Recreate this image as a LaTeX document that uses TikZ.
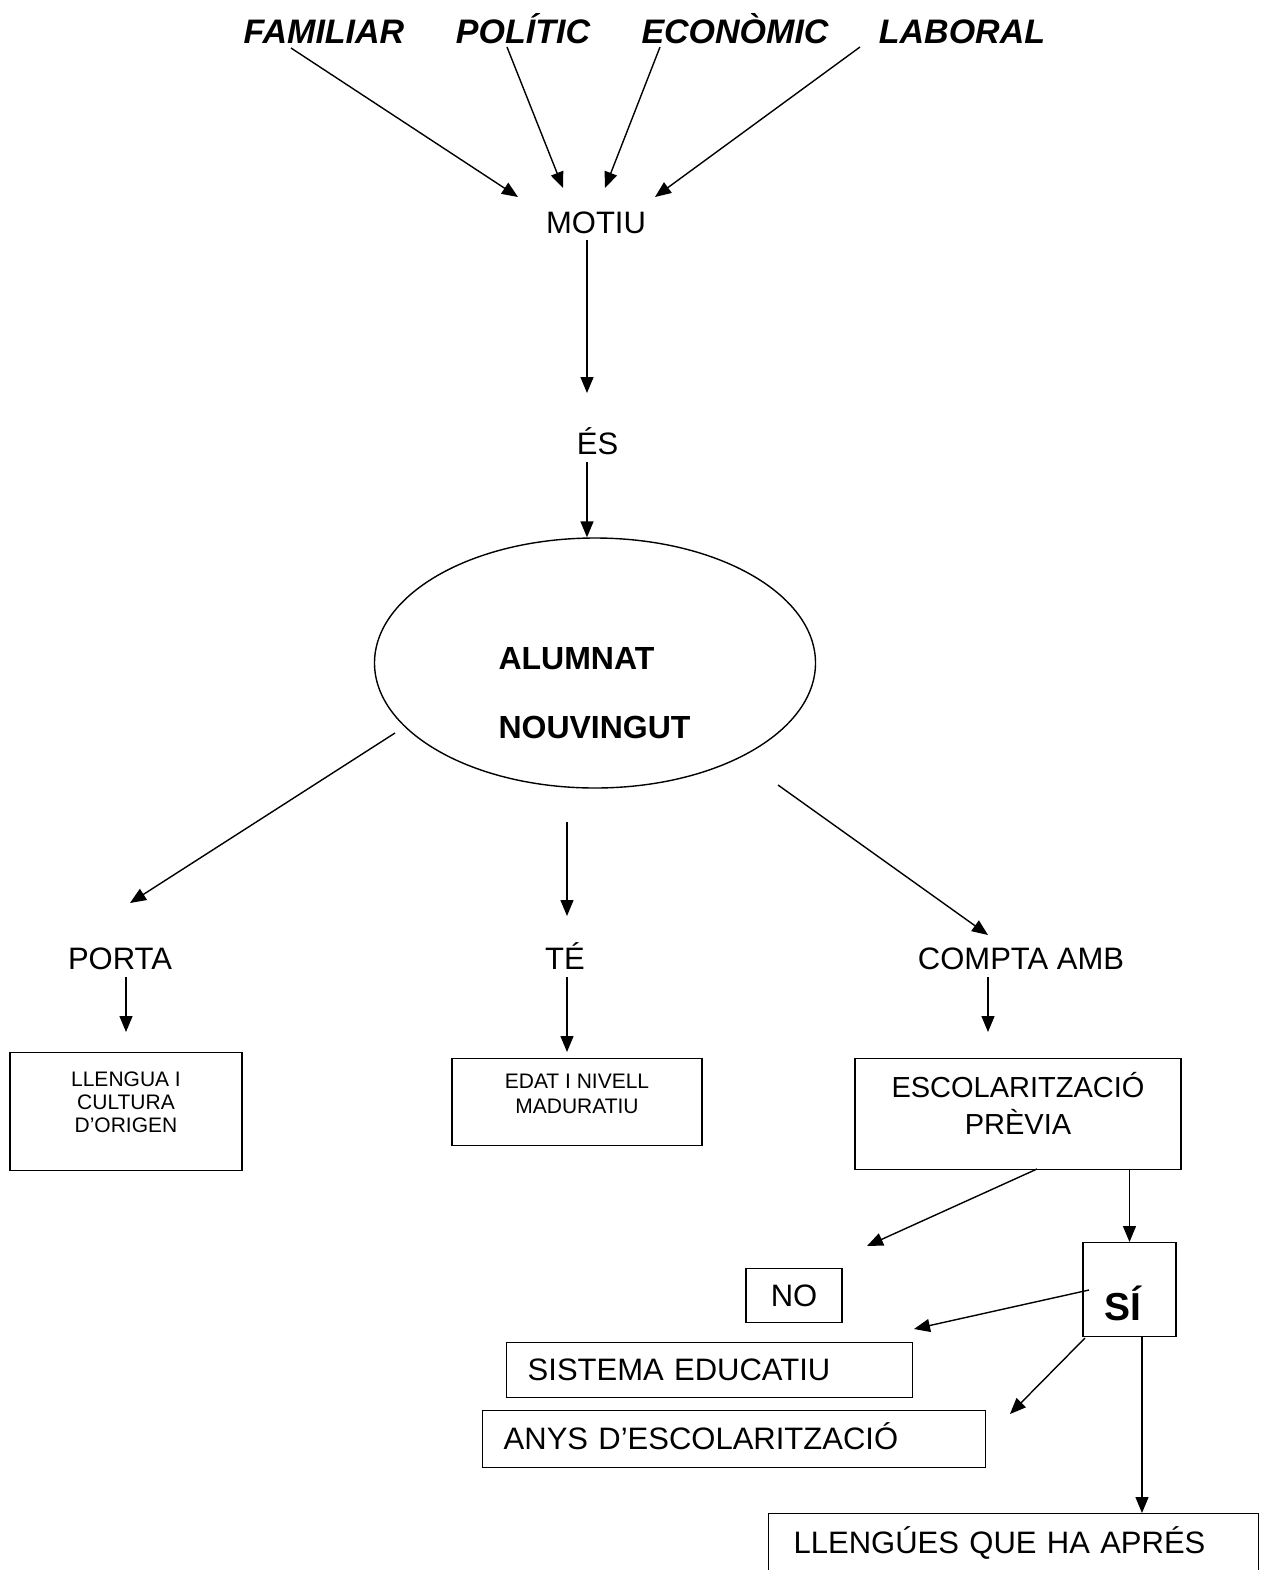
\documentclass[tikz,border=0pt]{standalone}
\usepackage{fontspec}
\setmainfont{Liberation Sans}
\usetikzlibrary{arrows.meta,shapes.geometric}

\tikzset{
  link/.style={-{Triangle[length=8pt,width=6.5pt]}, line width=0.7pt},
  motive/.style={anchor=base, font=\fontsize{17}{20}\selectfont\bfseries\itshape},
  word/.style={anchor=base, font=\fontsize{15.5}{18}\selectfont},
  box/.style={draw, line width=0.7pt, anchor=north, inner ysep=0pt, align=center},
  lbox/.style={box, anchor=north west, align=left, inner xsep=10.5pt,
    font=\fontsize{15.5}{18}\selectfont}
}

\begin{document}
\begin{tikzpicture}[x=0.5pt,y=-0.5pt]
\useasboundingbox (0,0) rectangle (1264,1570);

\node[motive] (familiar) at (324,43) {FAMILIAR};
\node[motive] (politic) at (523,43) {POLÍTIC};
\node[motive] (economic) at (735,43) {ECONÒMIC};
\node[motive] (laboral) at (962,43) {LABORAL};
\node[word] (motiu) at (596,233) {MOTIU};
\node[word] (es) at (597.5,454) {ÉS};

\node[draw, ellipse, line width=0.7pt, minimum width=220.5pt,
  minimum height=125pt] (alumnat) at (595,663) {};
\node[font=\fontsize{16}{34.5}\selectfont\bfseries, align=left]
  (alumnatlabel) at (594.5,693.5) {ALUMNAT\\NOUVINGUT};

\node[word] (porta) at (120,969) {PORTA};
\node[word] (te) at (565,969) {TÉ};
\node[word] (compta) at (1021,969) {COMPTA AMB};

\node[box, minimum width=116pt, text height=39.75pt, text depth=19.25pt,
  font=\fontsize{10.5}{11.5}\selectfont] (llengua) at (126,1052)
  {LLENGUA I\\CULTURA\\D’ORIGEN};
\node[box, minimum width=125pt, text height=27.25pt, text depth=16.25pt,
  font=\fontsize{10.5}{12.5}\selectfont] (edat) at (577,1058)
  {EDAT I NIVELL\\MADURATIU};
\node[box, minimum width=163pt, text height=37.75pt, text depth=17.75pt,
  font=\fontsize{14.5}{18.5}\selectfont] (escol) at (1018,1058)
  {ESCOLARITZACIÓ\\PRÈVIA};
\node[box, align=left, text width=25.5pt, inner xsep=10.5pt, text height=39pt,
  text depth=8pt, font=\fontsize{19.5}{22}\selectfont\bfseries]
  (si) at (1129.5,1242) {SÍ};
\node[box, minimum width=48pt, text height=19pt, text depth=8pt,
  font=\fontsize{15.5}{18}\selectfont] (no) at (794,1268) {NO};
\node[lbox, text width=182pt, text height=19pt, text depth=8.5pt]
  (sistema) at (506,1342) {SISTEMA EDUCATIU};
\node[lbox, text width=230.5pt, text height=19.5pt, text depth=9pt]
  (anys) at (482,1410) {ANYS D’ESCOLARITZACIÓ};
\node[lbox, text width=220pt, inner xsep=12.5pt, text height=20pt, text depth=30pt]
  (llengues) at (768,1513) {LLENGÚES QUE HA APRÉS};

\coordinate (famA) at (291,48);   \coordinate (famB) at (518,197);
\coordinate (polA) at (507,47);   \coordinate (polB) at (563,188);
\coordinate (ecoA) at (660,47);   \coordinate (ecoB) at (605,188);
\coordinate (labA) at (860,47);   \coordinate (labB) at (655,197);
\coordinate (motA) at (587,240);  \coordinate (motB) at (587,393);
\coordinate (esA) at (587,462);
\coordinate (porA) at (395,733);  \coordinate (porB) at (130,903);
\coordinate (teA) at (567,822);   \coordinate (teB) at (567,916);
\coordinate (comA) at (778,785);  \coordinate (comB) at (988,935);
\coordinate (porC) at (126,977);  \coordinate (porD) at (126,1032);
\coordinate (teC) at (567,977);   \coordinate (teD) at (567,1052);
\coordinate (comC) at (988,977);  \coordinate (comD) at (988,1032);
\coordinate (escA) at (1037,1169); \coordinate (noB) at (867,1246);
\coordinate (siA) at (1089,1290); \coordinate (sisB) at (914,1329);
\coordinate (siB) at (1085,1338); \coordinate (anyB) at (1010,1414);
\coordinate (siC) at (1142,1337);

\draw[link] (famA) -- (famB);
\draw[link] (polA) -- (polB);
\draw[link] (ecoA) -- (ecoB);
\draw[link] (labA) -- (labB);
\draw[link] (motA) -- (motB);
\draw[link] (esA) -- (esA |- alumnat.north);
\draw[link] (porA) -- (porB);
\draw[link] (teA) -- (teB);
\draw[link] (comA) -- (comB);
\draw[link] (porC) -- (porD);
\draw[link] (teC) -- (teD);
\draw[link] (comC) -- (comD);
\draw[link] (escA) -- (noB);
\draw[link] (escol.south -| si.north) -- (si.north);
\draw[link] (siA) -- (sisB);
\draw[link] (siB) -- (anyB);
\draw[link] (siC) -- (siC |- llengues.north);
\end{tikzpicture}
\end{document}
